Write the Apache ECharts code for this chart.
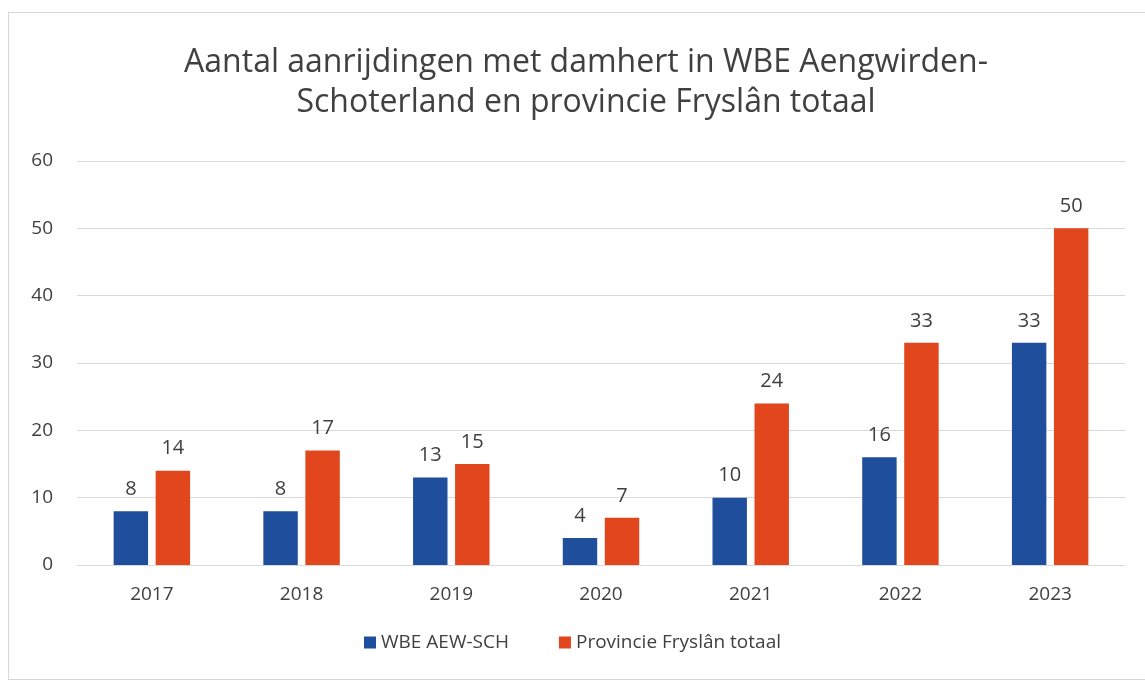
<!DOCTYPE html>
<html><head><meta charset="utf-8">
<script src="https://cdn.jsdelivr.net/npm/echarts@6/dist/echarts.min.js"></script>
<style>
html,body{margin:0;padding:0;background:#fff;}
#frame{position:absolute;left:8px;top:12px;width:1145px;height:668px;border:1px solid #d6d6d6;box-sizing:border-box;}
#c{width:1145px;height:681px;position:absolute;left:0;top:0;}
</style></head>
<body><div id="frame"></div><div id="c"></div>
<script>
const categories = ['2017','2018','2019','2020','2021','2022','2023'];
const wbeValues = [8, 8, 13, 4, 10, 16, 33];
const provValues = [14, 17, 15, 7, 24, 33, 50];
const seriesNames = ['WBE AEW-SCH', 'Provincie Fryslân totaal'];
const titleText = 'Aantal aanrijdingen met damhert in WBE Aengwirden-\nSchoterland en provincie Fryslân totaal';

const FONT = '"Open Sans", "Noto Sans", sans-serif';
const chart = echarts.init(document.getElementById('c'), null, {renderer:'canvas'});
const labelStyle = {show:true, position:'top', distance:12, color:'#404040', fontSize:20, fontFamily:FONT};
chart.setOption({
  animation:false,
  title:{text:titleText, left:581, textAlign:'center', top:38,
    textStyle:{fontFamily:FONT, fontSize:32, fontWeight:'normal', color:'#404040', lineHeight:40}},
  grid:{left:77, right:20, top:161, bottom:116, containLabel:false},
  legend:{bottom:24, left:'center', itemWidth:12, itemHeight:12, itemGap:50, icon:'rect',
    textStyle:{fontFamily:FONT, fontSize:19, color:'#404040'}},
  xAxis:{type:'category', data:categories,
    axisLine:{lineStyle:{color:'#d9d9d9'}}, axisTick:{show:false},
    axisLabel:{fontFamily:FONT, fontSize:19, color:'#404040', margin:20}},
  yAxis:{type:'value', min:0, max:60, interval:10,
    splitLine:{lineStyle:{color:'#d9d9d9'}},
    axisLabel:{fontFamily:FONT, fontSize:19, color:'#404040', margin:24}},
  series:[
    {name:seriesNames[0], type:'bar', data:wbeValues, barWidth:'23%', barGap:'22%',
      itemStyle:{color:'#1f4e9c'}, label:labelStyle},
    {name:seriesNames[1], type:'bar', data:provValues, barWidth:'23%',
      itemStyle:{color:'#e2461c'}, label:labelStyle}
  ]
});
</script></body></html>
